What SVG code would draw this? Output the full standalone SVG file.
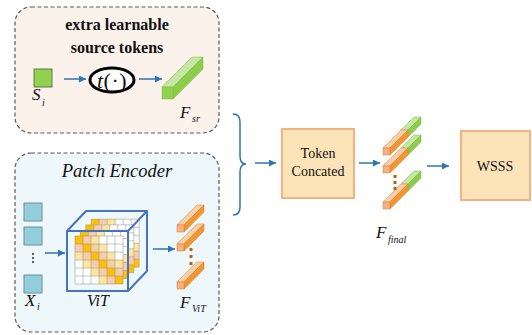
<svg xmlns="http://www.w3.org/2000/svg" width="532" height="335" viewBox="0 0 532 335">
<style>
.panel{stroke:#5a5a5a;stroke-width:1.2;stroke-dasharray:4 2.5}
text{font-family:'Liberation Serif','DejaVu Serif',serif;fill:#111}
.it{font-style:italic}
.box{fill:#FCE4B8;stroke:#F4B183;stroke-width:2}
.arrow{stroke:#2E75B6;stroke-width:1.5;fill:none;marker-end:url(#ah)}
.g{stroke:#8a8a8a;stroke-width:0.5}
.cube{fill:none;stroke:#4472C4;stroke-width:2;stroke-linejoin:round}
.ofront{fill:#F4B183;stroke:#E07B2A;stroke-width:0.5}
.otop{fill:#F9CFA8;stroke:#E07B2A;stroke-width:0.5}
.oside{fill:#F3962F;stroke:#E07B2A;stroke-width:0.5}
.gtop{fill:#C6E6A3;stroke:#7DBD42;stroke-width:0.5}
.gside{fill:#8DCB4B;stroke:#7DBD42;stroke-width:0.5}
.gfront{fill:#92D050;stroke:#7DBD42;stroke-width:0.5}
.dot{fill:#C55A11}
</style>
<defs>
<marker id="ah" viewBox="0 0 10 10" refX="10" refY="5" markerWidth="8" markerHeight="7" markerUnits="userSpaceOnUse" orient="auto">
<path d="M0,0 L10,5 L0,10 z" fill="#2E75B6"/>
</marker>
<g id="grid">
<rect x="0" y="0" width="48" height="48" fill="#fff"/>
<rect x="0" y="0" width="8" height="8" fill="#FFC000"/><rect x="8" y="0" width="8" height="8" fill="#F8CBAD"/><rect x="16" y="0" width="8" height="8" fill="#FFE699"/>
<rect x="0" y="8" width="8" height="8" fill="#F8CBAD"/><rect x="8" y="8" width="8" height="8" fill="#FFC000"/><rect x="16" y="8" width="8" height="8" fill="#F8CBAD"/><rect x="24" y="8" width="8" height="8" fill="#FFE699"/>
<rect x="0" y="16" width="8" height="8" fill="#FFE699"/><rect x="8" y="16" width="8" height="8" fill="#F8CBAD"/><rect x="16" y="16" width="8" height="8" fill="#FFC000"/><rect x="24" y="16" width="8" height="8" fill="#F8CBAD"/><rect x="32" y="16" width="8" height="8" fill="#FFE699"/>
<rect x="8" y="24" width="8" height="8" fill="#FFE699"/><rect x="16" y="24" width="8" height="8" fill="#F8CBAD"/><rect x="24" y="24" width="8" height="8" fill="#FFC000"/><rect x="32" y="24" width="8" height="8" fill="#F8CBAD"/><rect x="40" y="24" width="8" height="8" fill="#FFE699"/>
<rect x="16" y="32" width="8" height="8" fill="#FFE699"/><rect x="24" y="32" width="8" height="8" fill="#F8CBAD"/><rect x="32" y="32" width="8" height="8" fill="#FFC000"/><rect x="40" y="32" width="8" height="8" fill="#F8CBAD"/>
<rect x="24" y="40" width="8" height="8" fill="#FFE699"/><rect x="32" y="40" width="8" height="8" fill="#F8CBAD"/><rect x="40" y="40" width="8" height="8" fill="#FFC000"/>
<path class="g" fill="none" d="M0,0H48V48H0Z M8,0V48 M16,0V48 M24,0V48 M32,0V48 M40,0V48 M0,8H48 M0,16H48 M0,24H48 M0,32H48 M0,40H48"/>
</g>
<g id="obar">
<polygon class="otop" points="0,0 7,0 27,-20 20,-20"/>
<polygon class="oside" points="7,0 27,-20 27,-13 7,7"/>
<rect class="ofront" x="0" y="0" width="7" height="7"/>
</g>
<g id="fbar">
<polygon class="gtop" points="18,-18 25,-18 38,-31 31,-31"/>
<polygon class="gside" points="25,-18 38,-31 38,-24 25,-11"/>
<polygon class="otop" points="0,0 7,0 25,-18 18,-18"/>
<polygon class="oside" points="7,0 25,-18 25,-11 7,7"/>
<rect class="ofront" x="0" y="0" width="7" height="7"/>
</g>
</defs>

<g id="source-panel">
<rect class="panel" x="15" y="7" width="204" height="126" rx="16" fill="#FBF2EC"/>
<text x="117" y="30" font-size="16" font-weight="bold" text-anchor="middle">extra learnable</text>
<text x="117" y="53" font-size="16" font-weight="bold" text-anchor="middle">source tokens</text>
</g>
<g id="node-si">
<rect x="34" y="69" width="18" height="18" fill="#92D050" stroke="#5E7A44" stroke-width="1"/>
<text class="it" x="32" y="100" font-size="17">S</text>
<text class="it" x="42" y="106" font-size="10">i</text>
</g>
<g id="node-t">
<ellipse cx="112" cy="80" rx="22" ry="12" fill="#fff" stroke="#000" stroke-width="3"/>
<text x="112" y="87.5" font-size="22" text-anchor="middle" letter-spacing="0.5"><tspan font-style="italic">t</tspan>(·)</text>
</g>
<g id="node-fsr">
<polygon class="gtop" points="162,87 173,87 203,57 192,57"/>
<polygon class="gside" points="173,87 203,57 203,69 173,99"/>
<rect class="gfront" x="162" y="87" width="11" height="12"/>
<text class="it" x="180" y="118" font-size="17">F</text>
<text class="it" x="192" y="122" font-size="10">sr</text>
</g>

<g id="encoder-panel">
<rect class="panel" x="15" y="153" width="204" height="179" rx="16" fill="#EEF7FA"/>
<text class="it" x="117" y="177" font-size="18.5" text-anchor="middle">Patch Encoder</text>
</g>
<g id="node-xi">
<rect x="24" y="203" width="18" height="18" fill="#92CDDC" stroke="#6E8E96" stroke-width="1"/>
<rect x="24" y="227" width="18" height="18" fill="#92CDDC" stroke="#6E8E96" stroke-width="1"/>
<rect x="24" y="275" width="18" height="18" fill="#92CDDC" stroke="#6E8E96" stroke-width="1"/>
<circle cx="33" cy="254" r="0.9" fill="#111"/><circle cx="33" cy="258" r="0.9" fill="#111"/><circle cx="33" cy="262" r="0.9" fill="#111"/>
<text class="it" x="25" y="306" font-size="17">X</text>
<text class="it" x="37" y="310" font-size="10">i</text>
</g>
<g id="node-vit">
<use href="#grid" transform="translate(91.2,219.2)"/>
<use href="#grid" transform="translate(85.8,224.8)"/>
<use href="#grid" transform="translate(80.4,230.4)"/>
<use href="#grid" transform="translate(75,236)"/>
<path class="cube" d="M67,231 L86,211 L147,211 L128,231 M128,231 L147,211 L147,271 L128,291"/>
<rect class="cube" x="67" y="231" width="61" height="60"/>
<text class="it" x="98" y="306" font-size="16" text-anchor="middle">ViT</text>
</g>
<g id="node-fvit">
<use href="#obar" transform="translate(177,225)"/>
<use href="#obar" transform="translate(177,244)"/>
<use href="#obar" transform="translate(177,282)"/>
<rect class="dot" x="189.5" y="248" width="3" height="3"/>
<rect class="dot" x="189.5" y="255" width="3" height="3"/>
<rect class="dot" x="189.5" y="262" width="3" height="3"/>
<text class="it" x="180" y="308" font-size="17">F</text>
<text class="it" x="192" y="312" font-size="10">ViT</text>
</g>

<g id="node-token">
<rect class="box" x="282" y="129" width="72" height="69"/>
<text x="318" y="158" font-size="14" text-anchor="middle">Token</text>
<text x="318" y="176" font-size="14" text-anchor="middle">Concated</text>
</g>
<g id="node-ffinal">
<use href="#fbar" transform="translate(383,148)"/>
<use href="#fbar" transform="translate(383,166)"/>
<use href="#fbar" transform="translate(383,202)"/>
<rect class="dot" x="393.5" y="175" width="3" height="3"/>
<rect class="dot" x="393.5" y="181" width="3" height="3"/>
<rect class="dot" x="393.5" y="187" width="3" height="3"/>
<text class="it" x="376" y="238" font-size="17">F</text>
<text class="it" x="388" y="243" font-size="10">final</text>
</g>
<g id="node-wsss">
<rect class="box" x="461" y="131" width="69" height="69"/>
<text x="495" y="171" font-size="14" text-anchor="middle">WSSS</text>
</g>

<g id="connectors">
<line class="arrow" x1="64" y1="79" x2="86" y2="79"/>
<line class="arrow" x1="139" y1="79" x2="162" y2="79"/>
<line class="arrow" x1="45" y1="253" x2="65" y2="253"/>
<line class="arrow" x1="153" y1="249" x2="175" y2="249"/>
<path d="M233,114 Q240,114 240,122 L240,156 Q240,164 246,164 Q240,164 240,172 L240,207 Q240,215 233,215" fill="none" stroke="#2E75B6" stroke-width="1.5"/>
<line class="arrow" x1="255" y1="163" x2="276" y2="163"/>
<line class="arrow" x1="359" y1="163" x2="380" y2="163"/>
<line class="arrow" x1="427" y1="166" x2="449" y2="166"/>
</g>
</svg>
